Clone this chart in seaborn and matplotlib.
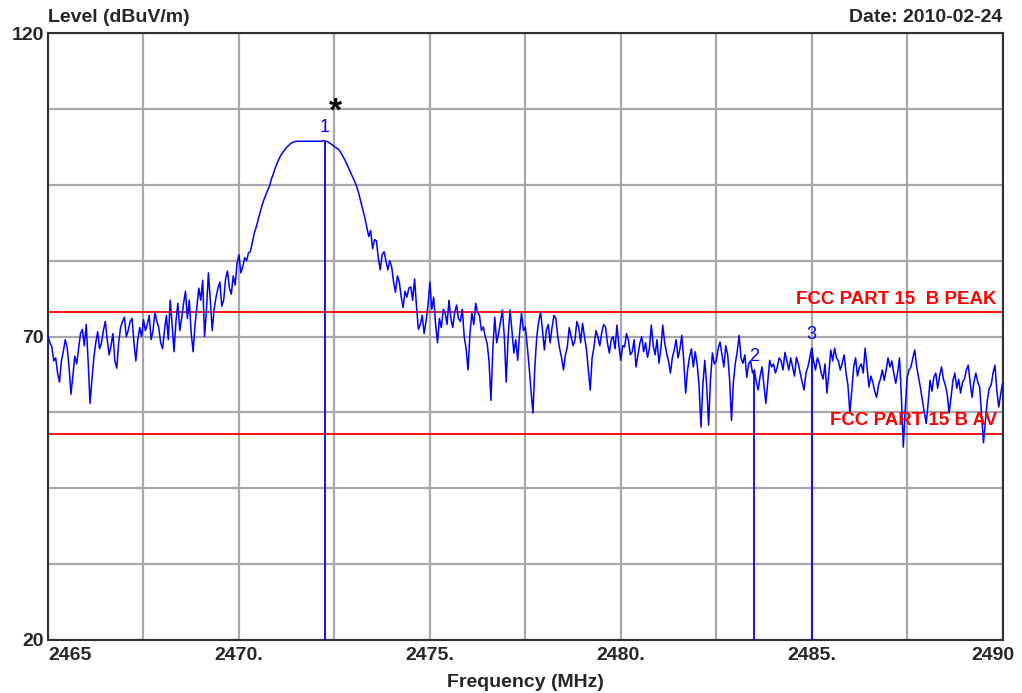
import numpy as np
import pandas as pd
import matplotlib
matplotlib.use("Agg")
import matplotlib.pyplot as plt
from matplotlib.transforms import ScaledTranslation
import seaborn as sns

# Spectrum trace, 0.05 MHz steps from 2465.0 to 2490.0 MHz (dBuV/m)
freq_start = 2465.0
freq_step = 0.05
level = [
    # 2465
    70.0, 69.0, 68.3, 66.0, 66.5, 64.0, 62.5, 66.0, 67.5, 69.5,
    68.2, 65.0, 60.5, 63.5, 66.8, 65.5, 68.0, 70.5, 71.2, 68.5,
    # 2466
    72.0, 66.0, 59.0, 63.0, 66.5, 69.0, 70.8, 68.0, 69.0, 71.0,
    72.5, 69.5, 67.0, 68.5, 70.5, 66.0, 64.8, 69.0, 71.5, 72.5,
    # 2467
    73.2, 70.0, 71.0, 72.5, 73.0, 69.0, 66.0, 69.5, 71.5, 70.0,
    72.8, 71.0, 72.0, 73.5, 69.5, 71.0, 74.0, 72.5, 71.5, 69.0,
    # 2468
    68.0, 71.0, 73.5, 69.5, 76.0, 72.0, 67.5, 72.5, 75.5, 71.0,
    73.0, 75.5, 77.5, 73.0, 76.0, 70.5, 67.5, 72.0, 75.0, 78.0,
    # 2469
    76.0, 79.3, 70.0, 74.5, 80.5, 76.0, 71.0, 74.5, 76.5, 78.0,
    79.0, 75.0, 76.0, 79.5, 80.8, 78.0, 77.0, 80.0, 78.5, 82.0,
    # 2470
    83.5, 80.5, 81.5, 83.0, 82.5, 83.8, 84.0, 85.5, 87.0, 88.0,
    89.2, 90.4, 91.5, 92.5, 93.3, 94.1, 94.8, 96.0, 96.8, 97.8,
    # 2471
    98.6, 99.3, 99.9, 100.4, 100.8, 101.2, 101.5, 101.8, 102.0, 102.1,
    102.2, 102.2, 102.2, 102.2, 102.2, 102.2, 102.2, 102.2, 102.2, 102.2,
    # 2472
    102.2, 102.2, 102.2, 102.2, 102.3, 102.2, 102.2, 102.0, 101.8, 101.6,
    101.3, 101.1, 100.9, 100.5, 100.0, 99.4, 98.8, 98.1, 97.4, 96.7,
    # 2473
    96.0, 95.3, 94.4, 93.3, 92.0, 90.8, 89.5, 88.0, 86.5, 87.5,
    84.5, 86.0, 85.8, 83.0, 81.0, 83.5, 84.0, 82.5, 81.0, 82.5,
    # 2474
    81.5, 79.0, 77.3, 80.0, 79.0, 76.5, 74.8, 77.5, 76.5, 78.0,
    78.2, 76.0, 79.5, 75.0, 71.2, 72.0, 73.5, 70.5, 72.5, 75.0,
    # 2475
    79.0, 74.5, 76.5, 72.0, 69.0, 73.0, 71.5, 74.5, 73.9, 72.0,
    76.0, 73.0, 71.5, 74.0, 75.2, 73.0, 72.5, 74.5, 70.0, 68.0,
    # 2476
    64.5, 70.5, 73.9, 72.0, 75.5, 74.0, 73.5, 71.0, 71.6, 70.0,
    68.9, 66.0, 59.5, 68.0, 73.2, 69.0, 70.5, 72.5, 74.4, 70.0,
    # 2477
    62.5, 70.0, 74.4, 71.0, 67.3, 69.5, 66.1, 70.5, 73.9, 71.0,
    71.6, 68.5, 65.0, 61.0, 57.4, 65.0, 70.0, 72.5, 74.0, 71.0,
    # 2478
    67.8, 71.0, 72.0, 69.0, 71.5, 73.5, 73.0, 70.0, 68.0, 66.5,
    64.5, 67.0, 68.3, 71.5, 70.0, 68.5, 69.4, 72.5, 71.5, 69.0,
    # 2479
    72.2, 70.0, 68.0, 64.5, 61.2, 66.5, 68.3, 71.0, 70.0, 68.5,
    70.6, 72.0, 71.6, 69.0, 67.3, 69.5, 70.0, 68.0, 71.9, 68.5,
    # 2480
    66.1, 68.5, 68.3, 70.5, 69.4, 67.0, 67.5, 69.5, 65.0, 67.0,
    68.9, 70.0, 67.5, 69.0, 66.6, 68.0, 71.9, 68.5, 67.0, 69.5,
    # 2481
    65.6, 68.0, 71.9, 69.0, 67.3, 66.0, 64.0, 66.5, 67.8, 69.5,
    66.5, 68.0, 70.2, 66.0, 60.7, 64.5, 66.6, 68.0, 65.0, 67.5,
    # 2482
    65.5, 62.0, 55.1, 62.0, 66.1, 62.0, 55.4, 63.0, 67.3, 65.5,
    66.0, 68.0, 69.1, 67.0, 65.0, 68.5, 67.0, 63.0, 56.2, 62.5,
    # 2483
    65.6, 67.5, 70.2, 66.5, 65.6, 67.0, 63.3, 65.5, 66.0, 64.0,
    64.5, 62.5, 61.2, 63.5, 65.0, 62.0, 59.0, 62.5, 66.1, 65.0,
    # 2484
    65.5, 64.0, 65.0, 66.5, 66.0, 64.5, 67.4, 66.0, 64.5, 66.5,
    65.0, 63.5, 66.6, 65.5, 64.0, 62.5, 61.2, 64.0, 65.0, 66.5,
    # 2485
    68.1, 66.0, 64.5, 66.5, 65.6, 64.0, 63.0, 65.5, 60.7, 64.0,
    67.8, 66.0, 68.1, 66.5, 66.0, 64.5, 65.6, 67.0, 64.0, 62.0,
    # 2486
    57.4, 61.0, 65.0, 66.5, 63.5, 65.0, 65.5, 64.0, 68.1, 65.0,
    61.7, 63.5, 62.5, 61.0, 60.0, 62.0, 63.0, 64.5, 62.8, 64.5,
    # 2487
    66.5, 65.0, 66.0, 64.0, 62.3, 64.0, 66.5, 60.0, 51.8, 58.0,
    63.3, 64.5, 65.0, 66.5, 67.8, 65.0, 63.3, 61.5, 59.5, 57.5,
    # 2488
    55.7, 59.0, 62.8, 61.0, 63.3, 64.0, 61.5, 63.5, 65.0, 63.0,
    62.0, 60.5, 57.4, 60.0, 62.8, 64.0, 61.5, 63.0, 60.7, 62.5,
    # 2489
    63.0, 64.5, 65.3, 62.5, 60.0, 62.5, 64.0, 62.5, 61.7, 57.0,
    52.5, 56.0, 59.5, 61.5, 62.0, 64.0, 65.3, 61.0, 58.4, 60.5,
    # 2490
    62.3,
]
freq = [round(freq_start + i * freq_step, 2) for i in range(len(level))]

# Markers
marker_ids = ["1", "2", "3"]
marker_freq = [2472.25, 2483.5, 2485.0]
marker_level = [102.2, 64.5, 68.1]

# Limit lines
limit_names = ["FCC PART 15  B PEAK", "FCC PART 15 B AV"]
limit_levels = [74.0, 54.0]

x_ticks = [2465, 2470, 2475, 2480, 2485, 2490]
x_tick_labels = ["2465", "2470.", "2475.", "2480.", "2485.", "2490"]
y_ticks = [20, 70, 120]
y_tick_labels = ["20", "70", "120"]

sns.set_style("white")
plt.rcParams["font.family"] = ["Liberation Sans", "DejaVu Sans"]
plt.rcParams["font.weight"] = "bold"

fig = plt.figure(figsize=(10.22, 6.93), dpi=100)
ax = fig.add_axes([0.047, 0.0765, 0.934, 0.8755])

df = pd.DataFrame({"Frequency": freq, "Level": level})
sns.lineplot(data=df, x="Frequency", y="Level", ax=ax, color="#0000ff",
             linewidth=1.1, zorder=3)

ax.set_xlim(2465, 2490)
ax.set_ylim(20, 120)

# grid: 2.5 MHz and 12.5 dB divisions
ax.set_xticks(x_ticks)
ax.set_xticklabels(x_tick_labels)
ax.set_xticks(np.arange(2467.5, 2490, 5.0), minor=True)
ax.set_yticks(y_ticks)
ax.set_yticklabels(y_tick_labels)
ax.set_yticks(np.arange(32.5, 120, 12.5), minor=True)
ax.grid(True, which="both", color="#a8a8a8", linewidth=1.6, zorder=0)
ax.tick_params(axis="x", which="both", length=0, labelsize=14, pad=5)
ax.tick_params(axis="y", which="both", length=0, labelsize=14, pad=3)
for lab in ax.get_xticklabels() + ax.get_yticklabels():
    lab.set_fontweight("bold")

xl = ax.get_xticklabels()
xl[0].set_ha("left")
xl[-1].set_transform(xl[-1].get_transform()
                     + ScaledTranslation(-0.10, 0, fig.dpi_scale_trans))

for s in ax.spines.values():
    s.set_color("#303030")
    s.set_linewidth(1.5)

ax.set_xlabel("Frequency (MHz)", fontsize=14, fontweight="bold", labelpad=7)
ax.set_ylabel("")

# limit lines
for name, lv in zip(limit_names, limit_levels):
    ax.axhline(lv, color="#ff0000", linewidth=1.3, zorder=2)
    ax.text(2489.85, lv + 0.8, name, color="#ff0000", fontsize=13.5,
            fontweight="bold", ha="right", va="bottom", zorder=4)

# marker lines and labels
ax.vlines(marker_freq, 20, marker_level, color="#0000ff", linewidth=1.3,
          zorder=3)
for mid, mf, ml in zip(marker_ids, marker_freq, marker_level):
    ax.text(mf, ml + 0.8, mid, color="#0000ff", fontsize=13,
            fontweight="normal", ha="center", va="bottom", zorder=4)

ax.text(marker_freq[0] + 0.27, marker_level[0] + 2.3, "*", color="black",
        fontsize=24, fontweight="bold", ha="center", va="bottom", zorder=4)

fig.text(0.047, 0.962, "Level (dBuV/m)", fontsize=14, fontweight="bold",
         ha="left", va="bottom")
fig.text(0.981, 0.962, "Date: 2010-02-24", fontsize=14, fontweight="bold",
         ha="right", va="bottom")

fig.savefig("out.png", dpi=100, facecolor="white")
